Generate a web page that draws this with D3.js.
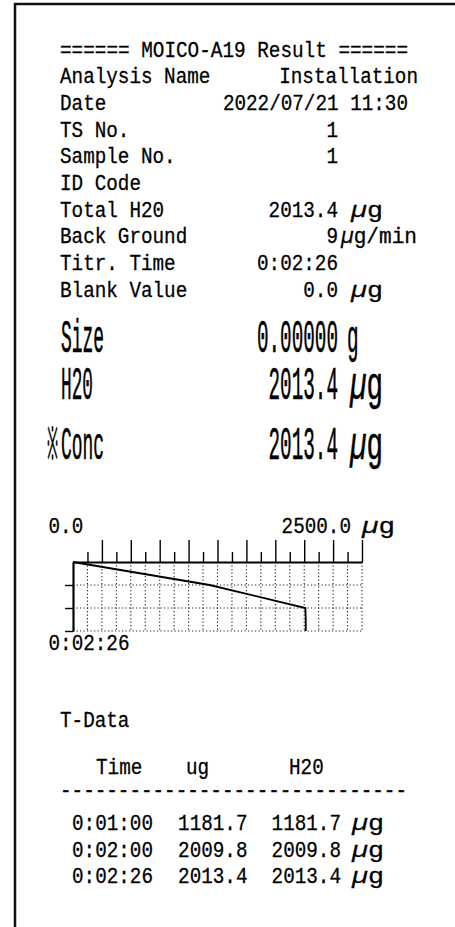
<!DOCTYPE html>
<html lang="en">
<head>
<meta charset="UTF-8">
<title>MOICO-A19 Result</title>
<script src="https://d3js.org/d3.v7.min.js"></script>
<style>
  body { margin: 0; padding: 0; background: #fff; }
  svg { display: block; }
  text {
    font-family: "Liberation Mono", "DejaVu Sans Mono", monospace;
    fill: #000;
    stroke: #000;
    stroke-width: 0.25px;
  }
</style>
</head>
<body>
<div id="chart"></div>
<script>
  // printout text
  const title = "====== MOICO-A19 Result ======";
  const infoLabels = ["Analysis Name", "Date", "TS No.", "Sample No.", "ID Code",
                      "Total H20", "Back Ground", "Titr. Time", "Blank Value"];
  const infoValues = ["Installation", "2022/07/21 11:30", "1", "1", "",
                      "2013.4", "9", "0:02:26", "0.0"];
  const infoUnits = ["", "", "", "", "", "µg", "µg/min", "", "µg"];

  const resultMarks = ["", "", "※"];
  const resultLabels = ["Size", "H20", "Conc"];
  const resultValues = ["0.00000", "2013.4", "2013.4"];
  const resultUnits = ["g", "µg", "µg"];

  // titration curve (time in seconds, H2O in µg)
  const curveTime = [0, 60, 120, 146];
  const curveH2O = [0, 1181.7, 2009.8, 2013.4];
  const axisLabels = ["0.0", "2500.0"];
  const axisUnit = "µg";
  const timeLabel = "0:02:26";

  // T-Data table
  const tHeaders = ["Time", "ug", "H20"];
  const tTimes = ["0:01:00", "0:02:00", "0:02:26"];
  const tUg = [1181.7, 2009.8, 2013.4];
  const tH2O = [1181.7, 2009.8, 2013.4];

  const width = 455, height = 927;
  const FS = 19.3, SY = 1.1, BIG = 2.35;

  const svg = d3.create("svg")
    .attr("width", width)
    .attr("height", height)
    .attr("viewBox", [0, 0, width, height]);

  svg.append("rect").attr("width", width).attr("height", height).attr("fill", "#fff");

  // frame of the paper
  svg.append("path")
    .attr("d", `M15,${height} V4 H${width}`)
    .attr("fill", "none")
    .attr("stroke", "#111")
    .attr("stroke-width", 2.5);

  function put(str, x, y, o = {}) {
    const t = svg.append("text")
      .attr("transform", `translate(${x},${y}) scale(1,${o.sy || SY})`)
      .attr("text-anchor", o.anchor || "start")
      .attr("font-size", FS)
      .text(str);
    if (o.len) t.attr("textLength", o.len).attr("lengthAdjust", "spacingAndGlyphs");
    return t;
  }

  // unit with italic mu
  function unit(str, x, y, len, sy) {
    const t = svg.append("text")
      .attr("transform", `translate(${x},${y}) scale(1,${sy || SY})`)
      .attr("font-size", FS)
      .attr("textLength", len)
      .attr("lengthAdjust", "spacingAndGlyphs");
    t.append("tspan").attr("font-style", "italic").text(str.slice(0, 1));
    t.append("tspan").text(str.slice(1));
    return t;
  }

  // header block
  put(title, 60, 56.7, { len: 348 });
  infoLabels.forEach((lab, i) => {
    const y = 83.3 + i * 26.67;
    put(lab, 60, y);
    const right = i === 0 ? 418 : i === 1 ? 408 : 338;
    if (infoValues[i]) put(infoValues[i], right, y, { anchor: "end" });
    if (infoUnits[i]) {
      const wide = infoUnits[i].length > 2;
      unit(infoUnits[i], wide ? 341 : 351, y, wide ? 76 : 32);
    }
  });

  // big result rows
  const bigY = [352, 399, 459];
  resultLabels.forEach((lab, i) => {
    if (resultMarks[i]) put(resultMarks[i], 46.5, bigY[i], { sy: BIG, len: 11 });
    put(lab, 61, bigY[i], { sy: BIG, len: lab.length * 11 - 1 });
    put(resultValues[i], 338, bigY[i], { anchor: "end", sy: BIG });
    if (resultUnits[i] === "g") put("g", 347, bigY[i], { sy: BIG });
    else unit(resultUnits[i], 350, bigY[i], 33, BIG);
  });

  // titration chart
  const x = d3.scaleLinear([0, 2500], [73, 362]);
  const y = d3.scaleLinear([0, 180], [562, 631]);
  const steps = d3.range(125, 2501, 125);
  const minor = steps.filter((d, i) => i % 2 === 0);
  const major = steps.filter((d, i) => i % 2 === 1);
  const timeTicks = [60, 120, 180];

  const grid = svg.append("g")
    .attr("stroke", "#222")
    .attr("stroke-width", 1.1)
    .attr("stroke-dasharray", "1.2,2.3");
  grid.selectAll(".v").data(steps).join("line")
    .attr("x1", d => x(d)).attr("x2", d => x(d))
    .attr("y1", y(0)).attr("y2", y(180));
  grid.selectAll(".h").data(timeTicks).join("line")
    .attr("x1", x(0)).attr("x2", x(2500))
    .attr("y1", d => y(d)).attr("y2", d => y(d));

  const topAxis = svg.append("g").attr("transform", `translate(0,${y(0)})`);
  topAxis.append("g")
    .call(d3.axisTop(x).tickValues(minor).tickSize(10).tickSizeOuter(0).tickFormat(""))
    .call(g => g.select(".domain").attr("stroke-width", 2.2))
    .call(g => g.selectAll(".tick line").attr("stroke-width", 1.4));
  topAxis.append("g")
    .call(d3.axisTop(x).tickValues(major).tickSize(22).tickSizeOuter(0).tickFormat(""))
    .call(g => g.select(".domain").remove())
    .call(g => g.selectAll(".tick line").attr("stroke-width", 1.4));

  svg.append("g")
    .attr("transform", `translate(${x(0)},0)`)
    .call(d3.axisLeft(y).tickValues(timeTicks).tickSize(8).tickSizeOuter(0).tickFormat(""))
    .call(g => g.select(".domain").attr("stroke-width", 2.2))
    .call(g => g.selectAll(".tick line").attr("stroke-width", 1.4));

  const pts = curveTime.map((t, i) => [t, curveH2O[i]]);
  pts.push([y.domain()[1], curveH2O[curveH2O.length - 1]]);
  svg.append("path")
    .attr("d", d3.line().x(d => x(d[1])).y(d => y(d[0]))(pts))
    .attr("fill", "none")
    .attr("stroke", "#000")
    .attr("stroke-width", 1.8);

  put(axisLabels[0], 48.5, 533);
  put(axisLabels[1], 351, 533, { anchor: "end" });
  unit(axisUnit, 362, 533, 33);
  put(timeLabel, 48.5, 650);

  // T-Data table
  put("T-Data", 60, 727);
  const colX = [96, 186, 289];
  tHeaders.forEach((h, i) => put(h, colX[i], 774));
  put("-".repeat(30), 60, 797, { len: 347 });
  tTimes.forEach((t, i) => {
    const yy = 830 + i * 26.67;
    put(t, 72, yy);
    put(d3.format(".1f")(tUg[i]), 247.5, yy, { anchor: "end" });
    put(d3.format(".1f")(tH2O[i]), 341, yy, { anchor: "end" });
    unit("µg", 352, yy, 32);
  });

  document.getElementById("chart").appendChild(svg.node());
</script>
</body>
</html>
